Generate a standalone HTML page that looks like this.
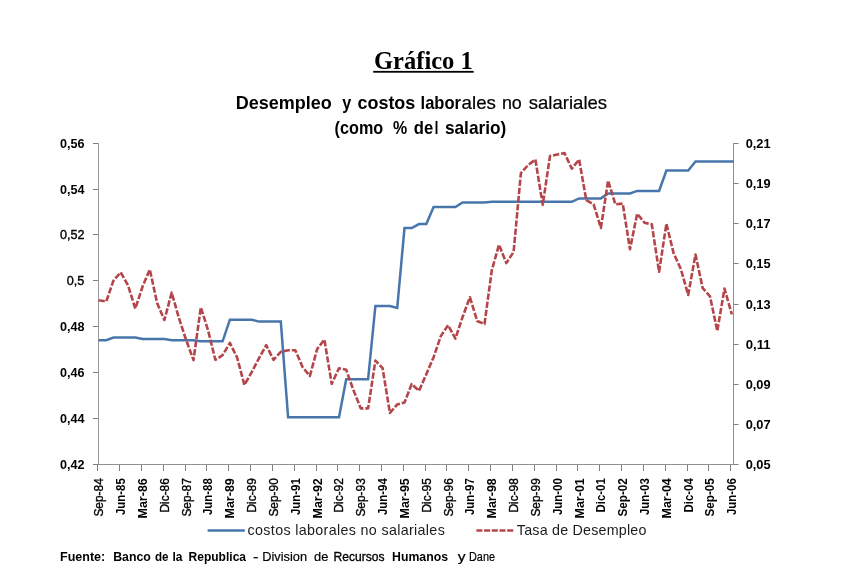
<!DOCTYPE html>
<html lang="es"><head><meta charset="utf-8"><title>Gráfico 1</title>
<style>
html,body{margin:0;padding:0;background:#fff;}
body{width:855px;height:588px;overflow:hidden;}
svg{display:block;}
text{font-family:"Liberation Sans","DejaVu Sans",sans-serif;fill:#000;}
.ser{font-family:"Liberation Serif","DejaVu Serif",serif;}
.b{font-weight:bold;}
.lg{fill:#1c1c1c;}
.m{stroke:#000;stroke-width:0.35px;}
.s{stroke:#000;stroke-width:0.2px;}
</style></head><body>
<svg width="855" height="588" viewBox="0 0 855 588">
<rect width="855" height="588" fill="#fff"/>

<text class="ser b" x="374.0" y="68.8" font-size="24.5" textLength="98.8" lengthAdjust="spacingAndGlyphs">Gráfico 1</text>
<rect x="373.2" y="70.9" width="100.5" height="1.8" fill="#000"/>
<text y="109.4" font-size="17.9" xml:space="preserve"><tspan class="b" x="235.8" textLength="96.0" lengthAdjust="spacingAndGlyphs">Desempleo</tspan> <tspan class="b" x="342.3" textLength="9.0" lengthAdjust="spacingAndGlyphs">y</tspan> <tspan class="b" x="357.5" textLength="57.8" lengthAdjust="spacingAndGlyphs">costos</tspan> <tspan class="b" x="420.6" textLength="40.4" lengthAdjust="spacingAndGlyphs">labor</tspan><tspan class="s" x="461.6" textLength="34.4" lengthAdjust="spacingAndGlyphs">ales</tspan> <tspan class="s" x="501.9" textLength="19.9" lengthAdjust="spacingAndGlyphs">no</tspan> <tspan class="s" x="528.8" textLength="78.3" lengthAdjust="spacingAndGlyphs">salariales</tspan></text>
<text y="133.6" font-size="17.9" xml:space="preserve"><tspan class="b" x="334.6" textLength="48.6" lengthAdjust="spacingAndGlyphs">(como</tspan> <tspan class="b" x="393.0" textLength="14.2" lengthAdjust="spacingAndGlyphs">%</tspan> <tspan class="b" x="413.8" textLength="19.4" lengthAdjust="spacingAndGlyphs">de</tspan><tspan class="s" x="434.5">l</tspan> <tspan class="b" x="444.9" textLength="61.4" lengthAdjust="spacingAndGlyphs">salario)</tspan></text>
<g fill="#808080">
<rect x="98" y="143" width="1" height="322" fill="#989898"/>
<rect x="733" y="143" width="1" height="322" fill="#909090"/>
<rect x="98" y="464" width="636" height="1" fill="#909090"/>
<rect x="93" y="143" width="5" height="1"/>
<rect x="93" y="189" width="5" height="1"/>
<rect x="93" y="234" width="5" height="1"/>
<rect x="93" y="280" width="5" height="1"/>
<rect x="93" y="326" width="5" height="1"/>
<rect x="93" y="372" width="5" height="1"/>
<rect x="93" y="418" width="5" height="1"/>
<rect x="93" y="464" width="5" height="1"/>
<rect x="734" y="143" width="4.5" height="1"/>
<rect x="734" y="183" width="4.5" height="1"/>
<rect x="734" y="223" width="4.5" height="1"/>
<rect x="734" y="263" width="4.5" height="1"/>
<rect x="734" y="304" width="4.5" height="1"/>
<rect x="734" y="344" width="4.5" height="1"/>
<rect x="734" y="384" width="4.5" height="1"/>
<rect x="734" y="424" width="4.5" height="1"/>
<rect x="734" y="464" width="4.5" height="1"/>
<rect x="97" y="465" width="1" height="6"/>
<rect x="119" y="465" width="1" height="6"/>
<rect x="141" y="465" width="1" height="6"/>
<rect x="163" y="465" width="1" height="6"/>
<rect x="185" y="465" width="1" height="6"/>
<rect x="206" y="465" width="1" height="6"/>
<rect x="228" y="465" width="1" height="6"/>
<rect x="250" y="465" width="1" height="6"/>
<rect x="272" y="465" width="1" height="6"/>
<rect x="294" y="465" width="1" height="6"/>
<rect x="316" y="465" width="1" height="6"/>
<rect x="337" y="465" width="1" height="6"/>
<rect x="359" y="465" width="1" height="6"/>
<rect x="381" y="465" width="1" height="6"/>
<rect x="403" y="465" width="1" height="6"/>
<rect x="425" y="465" width="1" height="6"/>
<rect x="446" y="465" width="1" height="6"/>
<rect x="468" y="465" width="1" height="6"/>
<rect x="490" y="465" width="1" height="6"/>
<rect x="512" y="465" width="1" height="6"/>
<rect x="534" y="465" width="1" height="6"/>
<rect x="556" y="465" width="1" height="6"/>
<rect x="577" y="465" width="1" height="6"/>
<rect x="599" y="465" width="1" height="6"/>
<rect x="621" y="465" width="1" height="6"/>
<rect x="643" y="465" width="1" height="6"/>
<rect x="665" y="465" width="1" height="6"/>
<rect x="687" y="465" width="1" height="6"/>
<rect x="708" y="465" width="1" height="6"/>
<rect x="730" y="465" width="1" height="6"/>
</g>
<text class="b" x="59.9" y="147.6" font-size="12" textLength="24.5" lengthAdjust="spacingAndGlyphs">0,56</text>
<text class="b" x="59.9" y="193.6" font-size="12" textLength="24.5" lengthAdjust="spacingAndGlyphs">0,54</text>
<text class="m" x="59.9" y="238.6" font-size="12" textLength="24.5" lengthAdjust="spacingAndGlyphs">0,52</text>
<text class="m" x="66.8" y="284.6" font-size="12" textLength="17.6" lengthAdjust="spacingAndGlyphs">0,5</text>
<text class="b" x="59.9" y="330.6" font-size="12" textLength="24.5" lengthAdjust="spacingAndGlyphs">0,48</text>
<text class="b" x="59.9" y="376.6" font-size="12" textLength="24.5" lengthAdjust="spacingAndGlyphs">0,46</text>
<text class="b" x="59.9" y="422.6" font-size="12" textLength="24.5" lengthAdjust="spacingAndGlyphs">0,44</text>
<text class="b" x="59.9" y="468.6" font-size="12" textLength="24.5" lengthAdjust="spacingAndGlyphs">0,42</text>
<text class="b" x="745.7" y="147.6" font-size="12" textLength="24.9" lengthAdjust="spacingAndGlyphs">0,21</text>
<text class="b" x="745.7" y="187.6" font-size="12" textLength="24.9" lengthAdjust="spacingAndGlyphs">0,19</text>
<text class="b" x="745.7" y="227.6" font-size="12" textLength="24.9" lengthAdjust="spacingAndGlyphs">0,17</text>
<text class="b" x="745.7" y="267.6" font-size="12" textLength="24.9" lengthAdjust="spacingAndGlyphs">0,15</text>
<text class="b" x="745.7" y="308.6" font-size="12" textLength="24.9" lengthAdjust="spacingAndGlyphs">0,13</text>
<text class="b" x="745.7" y="348.6" font-size="12" textLength="24.9" lengthAdjust="spacingAndGlyphs">0,11</text>
<text class="b" x="745.7" y="388.6" font-size="12" textLength="24.9" lengthAdjust="spacingAndGlyphs">0,09</text>
<text class="b" x="745.7" y="428.6" font-size="12" textLength="24.9" lengthAdjust="spacingAndGlyphs">0,07</text>
<text class="b" x="745.7" y="468.6" font-size="12" textLength="24.9" lengthAdjust="spacingAndGlyphs">0,05</text>
<text class="m" transform="translate(103.2,478.2) rotate(-90)" text-anchor="end" font-size="12" textLength="38.4" lengthAdjust="spacingAndGlyphs">Sep-84</text>
<text class="b" transform="translate(125.0,478.2) rotate(-90)" text-anchor="end" font-size="12" textLength="36.9" lengthAdjust="spacingAndGlyphs">Jun-85</text>
<text class="b" transform="translate(146.9,478.2) rotate(-90)" text-anchor="end" font-size="12" textLength="40.3" lengthAdjust="spacingAndGlyphs">Mar-86</text>
<text class="m" transform="translate(168.7,478.2) rotate(-90)" text-anchor="end" font-size="12" textLength="34.3" lengthAdjust="spacingAndGlyphs">Dic-86</text>
<text class="m" transform="translate(190.5,478.2) rotate(-90)" text-anchor="end" font-size="12" textLength="38.4" lengthAdjust="spacingAndGlyphs">Sep-87</text>
<text class="b" transform="translate(212.3,478.2) rotate(-90)" text-anchor="end" font-size="12" textLength="36.9" lengthAdjust="spacingAndGlyphs">Jun-88</text>
<text class="b" transform="translate(234.2,478.2) rotate(-90)" text-anchor="end" font-size="12" textLength="40.3" lengthAdjust="spacingAndGlyphs">Mar-89</text>
<text class="m" transform="translate(256.0,478.2) rotate(-90)" text-anchor="end" font-size="12" textLength="34.3" lengthAdjust="spacingAndGlyphs">Dic-89</text>
<text class="m" transform="translate(277.8,478.2) rotate(-90)" text-anchor="end" font-size="12" textLength="38.4" lengthAdjust="spacingAndGlyphs">Sep-90</text>
<text class="b" transform="translate(299.7,478.2) rotate(-90)" text-anchor="end" font-size="12" textLength="36.9" lengthAdjust="spacingAndGlyphs">Jun-91</text>
<text class="b" transform="translate(321.5,478.2) rotate(-90)" text-anchor="end" font-size="12" textLength="40.3" lengthAdjust="spacingAndGlyphs">Mar-92</text>
<text class="m" transform="translate(343.3,478.2) rotate(-90)" text-anchor="end" font-size="12" textLength="34.3" lengthAdjust="spacingAndGlyphs">Dic-92</text>
<text class="m" transform="translate(365.2,478.2) rotate(-90)" text-anchor="end" font-size="12" textLength="38.4" lengthAdjust="spacingAndGlyphs">Sep-93</text>
<text class="b" transform="translate(387.0,478.2) rotate(-90)" text-anchor="end" font-size="12" textLength="36.9" lengthAdjust="spacingAndGlyphs">Jun-94</text>
<text class="b" transform="translate(408.8,478.2) rotate(-90)" text-anchor="end" font-size="12" textLength="40.3" lengthAdjust="spacingAndGlyphs">Mar-95</text>
<text class="m" transform="translate(430.6,478.2) rotate(-90)" text-anchor="end" font-size="12" textLength="34.3" lengthAdjust="spacingAndGlyphs">Dic-95</text>
<text class="m" transform="translate(452.5,478.2) rotate(-90)" text-anchor="end" font-size="12" textLength="38.4" lengthAdjust="spacingAndGlyphs">Sep-96</text>
<text class="b" transform="translate(474.3,478.2) rotate(-90)" text-anchor="end" font-size="12" textLength="36.9" lengthAdjust="spacingAndGlyphs">Jun-97</text>
<text class="b" transform="translate(496.1,478.2) rotate(-90)" text-anchor="end" font-size="12" textLength="40.3" lengthAdjust="spacingAndGlyphs">Mar-98</text>
<text class="m" transform="translate(518.0,478.2) rotate(-90)" text-anchor="end" font-size="12" textLength="34.3" lengthAdjust="spacingAndGlyphs">Dic-98</text>
<text class="m" transform="translate(539.8,478.2) rotate(-90)" text-anchor="end" font-size="12" textLength="38.4" lengthAdjust="spacingAndGlyphs">Sep-99</text>
<text class="b" transform="translate(561.6,478.2) rotate(-90)" text-anchor="end" font-size="12" textLength="36.9" lengthAdjust="spacingAndGlyphs">Jun-00</text>
<text class="b" transform="translate(583.5,478.2) rotate(-90)" text-anchor="end" font-size="12" textLength="40.3" lengthAdjust="spacingAndGlyphs">Mar-01</text>
<text class="b" transform="translate(605.3,478.2) rotate(-90)" text-anchor="end" font-size="12" textLength="34.3" lengthAdjust="spacingAndGlyphs">Dic-01</text>
<text class="b" transform="translate(627.1,478.2) rotate(-90)" text-anchor="end" font-size="12" textLength="38.4" lengthAdjust="spacingAndGlyphs">Sep-02</text>
<text class="b" transform="translate(649.0,478.2) rotate(-90)" text-anchor="end" font-size="12" textLength="36.9" lengthAdjust="spacingAndGlyphs">Jun-03</text>
<text class="b" transform="translate(670.8,478.2) rotate(-90)" text-anchor="end" font-size="12" textLength="40.3" lengthAdjust="spacingAndGlyphs">Mar-04</text>
<text class="b" transform="translate(692.6,478.2) rotate(-90)" text-anchor="end" font-size="12" textLength="34.3" lengthAdjust="spacingAndGlyphs">Dic-04</text>
<text class="b" transform="translate(714.4,478.2) rotate(-90)" text-anchor="end" font-size="12" textLength="38.4" lengthAdjust="spacingAndGlyphs">Sep-05</text>
<text class="b" transform="translate(736.3,478.2) rotate(-90)" text-anchor="end" font-size="12" textLength="36.9" lengthAdjust="spacingAndGlyphs">Jun-06</text>
<polyline points="98.6,340.2 98.9,340.2 106.2,340.2 113.5,337.5 120.7,337.5 128.0,337.5 135.3,337.5 142.6,339.0 149.8,339.0 157.1,339.0 164.4,339.0 171.7,340.2 178.9,340.2 186.2,340.2 193.5,340.2 200.8,341.3 208.0,341.3 215.3,341.3 222.6,341.3 229.9,319.7 237.1,319.7 244.4,319.7 251.7,319.7 259.0,321.6 266.2,321.6 273.5,321.6 280.8,321.6 288.1,417.3 295.3,417.3 302.6,417.3 309.9,417.3 317.1,417.3 324.4,417.3 331.7,417.3 339.0,417.3 346.2,379.3 353.5,379.3 360.8,379.3 368.1,379.3 375.4,306.0 382.6,306.0 389.9,306.0 397.2,308.0 404.5,228.1 411.7,228.1 419.0,224.1 426.3,224.1 433.6,207.0 440.8,207.0 448.1,207.0 455.4,207.0 462.6,202.4 469.9,202.4 477.2,202.4 484.5,202.4 491.8,201.8 499.0,201.8 506.3,201.8 513.6,201.8 520.9,201.8 528.1,201.8 535.4,201.8 542.7,201.8 550.0,201.8 557.2,201.8 564.5,201.8 571.8,201.8 579.1,198.4 586.3,198.4 593.6,198.4 600.9,198.4 608.1,193.4 615.4,193.4 622.7,193.4 630.0,193.4 637.2,190.9 644.5,190.9 651.8,190.9 659.1,190.9 666.4,170.5 673.6,170.5 680.9,170.5 688.2,170.5 695.5,161.4 702.7,161.4 710.0,161.4 717.3,161.4 724.5,161.4 731.8,161.4 733.6,161.4" fill="none" stroke="#4876ac" stroke-width="2.5" stroke-linejoin="miter" stroke-linecap="butt"/>
<polyline points="98.6,300.1 98.9,300.2 106.2,301.6 113.5,280.5 120.7,272.4 128.0,285.3 135.3,308.6 142.6,286.5 149.8,269.5 157.1,303.0 164.4,320.0 171.7,292.6 178.9,318.0 186.2,340.2 193.5,360.1 200.8,307.4 208.0,330.0 215.3,359.8 222.6,355.2 229.9,342.9 237.1,357.5 244.4,384.9 251.7,372.2 259.0,358.2 266.2,345.1 273.5,359.8 280.8,351.8 288.1,350.2 295.3,350.2 302.6,367.2 309.9,375.9 317.1,349.2 324.4,339.5 331.7,383.9 339.0,368.2 346.2,369.8 353.5,390.3 360.8,408.4 368.1,408.4 375.4,360.6 382.6,368.2 389.9,413.0 397.2,404.4 404.5,402.4 411.7,384.1 419.0,390.9 426.3,374.3 433.6,357.2 440.8,336.1 448.1,325.1 455.4,338.7 462.6,317.0 469.9,297.2 477.2,321.0 484.5,324.0 491.8,270.3 499.0,244.7 506.3,263.1 513.6,252.0 520.9,173.1 528.1,165.1 535.4,159.5 542.7,204.9 550.0,156.1 557.2,154.5 564.5,153.1 571.8,168.7 579.1,159.5 586.3,200.2 593.6,204.3 600.9,227.9 608.1,180.6 615.4,204.3 622.7,203.6 630.0,249.2 637.2,213.7 644.5,222.7 651.8,224.3 659.1,271.8 666.4,223.7 673.6,253.1 680.9,269.2 688.2,294.9 695.5,254.5 702.7,288.2 710.0,296.3 717.3,331.0 724.5,288.6 731.8,314.3" fill="none" stroke="#b4464b" stroke-width="2.6" stroke-dasharray="6.3 1.9" stroke-linejoin="round"/>
<line x1="207.6" y1="530.5" x2="244.8" y2="530.5" stroke="#4876ac" stroke-width="2.6"/>
<text class="lg" x="247.6" y="535.4" font-size="14.3" textLength="197.2" lengthAdjust="spacing">costos laborales no salariales</text>
<line x1="476.4" y1="530.5" x2="513.4" y2="530.5" stroke="#b4464b" stroke-width="2.6" stroke-dasharray="6 1.7"/>
<text class="lg" x="516.8" y="535.4" font-size="14.3" textLength="129.6" lengthAdjust="spacing">Tasa de Desempleo</text>
<text y="560.7" font-size="13.1" xml:space="preserve"><tspan class="b" x="60.0" textLength="45.2" lengthAdjust="spacingAndGlyphs">Fuente:</tspan> <tspan class="b" x="113.2" textLength="37.7" lengthAdjust="spacingAndGlyphs">Banco</tspan> <tspan class="b" x="154.9" textLength="13.5" lengthAdjust="spacingAndGlyphs">de</tspan> <tspan class="b" x="172.4" textLength="10.0" lengthAdjust="spacingAndGlyphs">la</tspan> <tspan class="b" x="188.6" textLength="57.4" lengthAdjust="spacingAndGlyphs">Republica</tspan> <tspan class="s" x="252.9" textLength="5.5" lengthAdjust="spacingAndGlyphs">-</tspan> <tspan class="s" x="262.3" textLength="44.7" lengthAdjust="spacingAndGlyphs">Division</tspan> <tspan class="s" x="314.0" textLength="14.3" lengthAdjust="spacingAndGlyphs">de</tspan> <tspan class="m" x="333.5" textLength="51.0" lengthAdjust="spacingAndGlyphs">Recursos</tspan> <tspan class="b" x="392.1" textLength="55.9" lengthAdjust="spacingAndGlyphs">Humanos</tspan> <tspan class="s" x="457.8" textLength="7.8" lengthAdjust="spacingAndGlyphs">y</tspan> <tspan class="s" x="469.0" textLength="26.0" lengthAdjust="spacingAndGlyphs">Dane</tspan></text>
</svg></body></html>
